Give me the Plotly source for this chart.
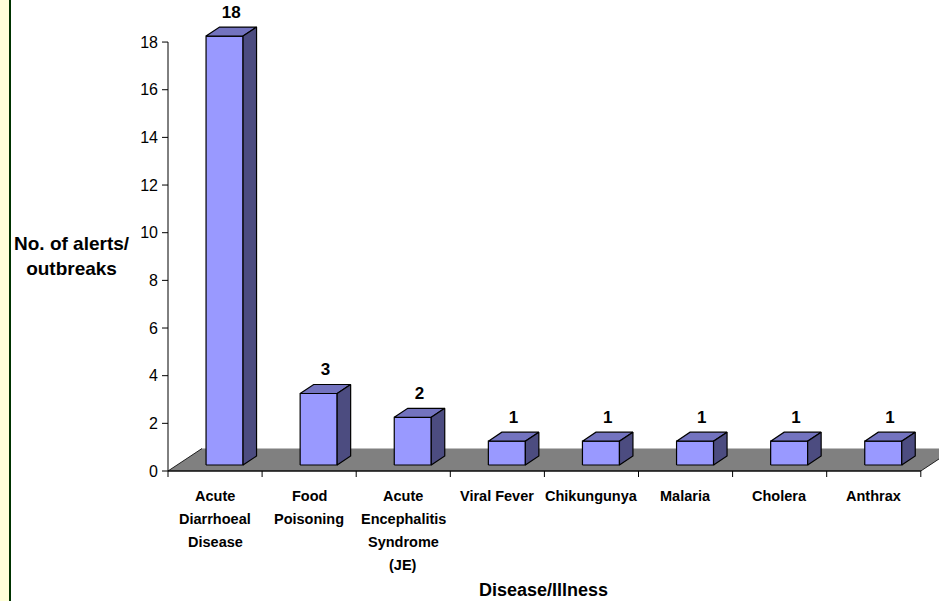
import plotly.graph_objects as go

# ---------------- data ----------------
categories = [
    "Acute<br>Diarrhoeal<br>Disease",
    "Food<br>Poisoning",
    "Acute<br>Encephalitis<br>Syndrome<br>(JE)",
    "Viral Fever",
    "Chikungunya",
    "Malaria",
    "Cholera",
    "Anthrax",
]
values = [18, 3, 2, 1, 1, 1, 1, 1]
y_ticks = [0, 2, 4, 6, 8, 10, 12, 14, 16, 18]
y_max_value = 18
y_title = "No. of alerts/<br>outbreaks"
x_title = "Disease/Illness"

# ---------------- geometry (pixels -> data units) ----------------
W, H = 939, 601
PX = 94.1          # pixels per category
PY = 23.83         # pixels per unit of value
X0_PIX = 168       # pixel of left edge of category axis
Y0_PIX = 471       # pixel of value 0
L = 160            # left plot edge (pixels)
B_PIX = 480        # bottom plot edge (pixels)

n = len(categories)
xa0, xa1 = -0.5, n - 0.5
xmin = xa0 - (X0_PIX - L) / PX
xmax = xmin + (W - L) / PX
ymin = -(B_PIX - Y0_PIX) / PY
ymax = Y0_PIX / PY

fdx, fdy = 34 / PX, 22.5 / PY          # floor depth
b1dx, b1dy = 9.5 / PX, 6 / PY          # bar front plane
b2dx, b2dy = 23 / PX, 15 / PY          # bar back plane
hw = 18.5 / PX                         # bar half width
ddx, ddy = b2dx - b1dx, b2dy - b1dy

FRONT, TOP, SIDE = "#9999FF", "#7373BF", "#4C4C80"
FLOOR = "#808080"
OUT = dict(color="black", width=1.2)
FONT = "Liberation Sans, Arial, sans-serif"

fig = go.Figure()

# floor
fig.add_trace(go.Scatter(
    x=[xa0, xa1, xa1 + fdx, xa0 + fdx, xa0],
    y=[0, 0, fdy, fdy, 0],
    mode="lines", fill="toself", fillcolor=FLOOR,
    line=dict(width=0), hoverinfo="skip"))
fig.add_trace(go.Scatter(
    x=[xa0 + fdx, xa0, xa1, xa1 + fdx], y=[fdy, 0, 0, fdy],
    mode="lines", line=dict(color="#202020", width=1), hoverinfo="skip"))

# bars
for i, v in enumerate(values):
    xl, xr = i + b1dx - hw, i + b1dx + hw
    yb, yt = b1dy, v + b1dy
    faces = [
        ([xl, xr, xr, xl, xl], [yb, yb, yt, yt, yb], FRONT),
        ([xl, xr, xr + ddx, xl + ddx, xl], [yt, yt, yt + ddy, yt + ddy, yt], TOP),
        ([xr, xr + ddx, xr + ddx, xr, xr], [yb, yb + ddy, yt + ddy, yt, yb], SIDE),
    ]
    for fx, fy, col in faces:
        fig.add_trace(go.Scatter(x=fx, y=fy, mode="lines", fill="toself",
                                 fillcolor=col, line=OUT, hoverinfo="skip"))

# data labels
fig.add_trace(go.Scatter(
    x=[i + (b1dx + b2dx) / 2 for i in range(n)],
    y=[v + 1.2 for v in values],
    mode="text", text=[str(v) for v in values], textposition="middle center",
    textfont=dict(family=FONT, size=17, color="black", weight="bold"),
    hoverinfo="skip", cliponaxis=False))

# axis lines and tick marks
ax_x, ax_y = [xa0, xa0, None, xa0, xa1], [0, y_max_value, None, 0, 0]
for k in range(n + 1):
    ax_x += [None, xa0 + k, xa0 + k]
    ax_y += [None, 0, -6 / PY]
for t in y_ticks:
    ax_x += [None, xa0, xa0 - 6 / PX]
    ax_y += [None, t, t]
fig.add_trace(go.Scatter(x=ax_x, y=ax_y, mode="lines",
                         line=dict(color="black", width=1), hoverinfo="skip"))


def px2paper_x(p):
    return (p - L) / (W - L)


def px2paper_y(p):
    return (B_PIX - p) / B_PIX


annotations = [
    dict(text=y_title, xref="paper", yref="paper",
         x=px2paper_x(72), y=px2paper_y(256), xanchor="center", yanchor="middle",
         showarrow=False, align="center",
         font=dict(family=FONT, size=19, color="black", weight="bold")),
    dict(text=x_title, xref="paper", yref="paper",
         x=px2paper_x(543), y=px2paper_y(590), xanchor="center", yanchor="middle",
         showarrow=False,
         font=dict(family=FONT, size=18, color="black", weight="bold")),
]
# category labels, one line each (wider line spacing as in the reference)
for i, cat in enumerate(categories):
    for k, line in enumerate(cat.split("<br>")):
        annotations.append(dict(
            text=line, xref="x", yref="paper", x=i, y=px2paper_y(496 + 23 * k),
            xanchor="center", yanchor="middle", showarrow=False,
            font=dict(family=FONT, size=14.5, color="black", weight="bold")))

fig.update_layout(
    width=W, height=H,
    margin=dict(l=L, r=0, t=0, b=H - B_PIX),
    paper_bgcolor="white", plot_bgcolor="white",
    showlegend=False, hovermode=False,
    xaxis=dict(range=[xmin, xmax], showticklabels=False,
               ticks="", showline=False, showgrid=False, zeroline=False),
    yaxis=dict(range=[ymin, ymax], tickvals=y_ticks, ticks="",
               showline=False, showgrid=False, zeroline=False,
               tickfont=dict(family=FONT, size=16, color="black"),
               ticklabelstandoff=1),
    annotations=annotations,
    shapes=[
        dict(type="rect", xref="paper", yref="paper",
             x0=px2paper_x(0), x1=px2paper_x(9), y0=px2paper_y(H), y1=px2paper_y(0),
             fillcolor="#FFFFD9", line=dict(width=0), layer="below"),
        dict(type="rect", xref="paper", yref="paper",
             x0=px2paper_x(9), x1=px2paper_x(11), y0=px2paper_y(H), y1=px2paper_y(0),
             fillcolor="#003300", line=dict(width=0), layer="below"),
    ],
)

fig.write_html("out.html", config={"displayModeBar": False},
               post_script="document.body.style.margin='0';")
